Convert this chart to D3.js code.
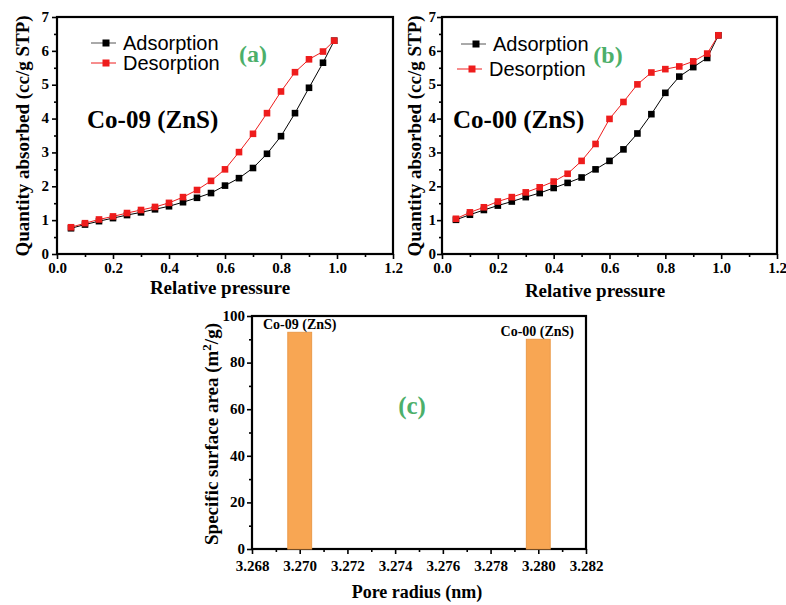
<!DOCTYPE html>
<html>
<head>
<meta charset="utf-8">
<script src="https://cdn.jsdelivr.net/npm/d3@7"></script>
<style>
  body { margin: 0; background: #fff; }
  text { font-family: "Liberation Serif", "Times New Roman", serif; font-weight: bold; }
  .legend { font-family: "Liberation Sans", Arial, sans-serif; font-weight: normal; }
</style>
</head>
<body>
<svg id="chart" width="786" height="605"></svg>
<script>
// data
const pressure = [0.05, 0.10, 0.15, 0.20, 0.25, 0.30, 0.35, 0.40, 0.45, 0.50,
                  0.55, 0.60, 0.65, 0.70, 0.75, 0.80, 0.85, 0.90, 0.95, 0.99];
const adsA = [0.76, 0.87, 0.97, 1.06, 1.15, 1.23, 1.32, 1.41, 1.53, 1.66,
              1.80, 2.02, 2.24, 2.54, 2.96, 3.48, 4.16, 4.91, 5.65, 6.30];
const desA = [0.79, 0.91, 1.02, 1.11, 1.21, 1.30, 1.39, 1.51, 1.68, 1.89,
              2.16, 2.50, 3.01, 3.55, 4.16, 4.80, 5.37, 5.75, 5.98, 6.30];
const adsB = [1.01, 1.16, 1.30, 1.43, 1.55, 1.68, 1.80, 1.95, 2.10, 2.26,
              2.50, 2.75, 3.09, 3.56, 4.13, 4.76, 5.24, 5.52, 5.79, 6.46];
const desB = [1.04, 1.23, 1.38, 1.55, 1.68, 1.82, 1.97, 2.14, 2.37, 2.75,
              3.25, 3.99, 4.49, 5.01, 5.36, 5.46, 5.54, 5.69, 5.92, 6.46];
const SERIES = ['Adsorption', 'Desorption'];
const COLORS = ['#000000', '#ee1c1c'];

const poreRadius = [3.270, 3.280];
const surfaceArea = [93, 90];
const sampleNames = ['Co-09 (ZnS)', 'Co-00 (ZnS)'];

const pressureTicks = [0.0, 0.2, 0.4, 0.6, 0.8, 1.0, 1.2];
const quantityTicks = [0, 1, 2, 3, 4, 5, 6, 7];
const radiusTicks = [3.268, 3.270, 3.272, 3.274, 3.276, 3.278, 3.280, 3.282];
const areaTicks = [0, 20, 40, 60, 80, 100];

const GREEN = '#4caf6a', ORANGE = '#f8a653';
const SERIF = '"Liberation Serif", "Times New Roman", serif';

var svg = d3.select('#chart');

// frame + axes for one panel, returns scales
function panel(box, xd, yd, xt, yt, xmin, ymin, fmtX, fmtY, opt) {
	var x = d3.scaleLinear().domain(xd).range([box.l, box.r]);
	var y = d3.scaleLinear().domain(yd).range([box.b, box.t]);
	var g = svg.append('g');

	g.append('g')
		.attr('transform', 'translate(0,' + box.b + ')')
		.call(d3.axisBottom(x).tickValues(xmin).tickSize(3).tickFormat(''))
		.call(a => a.select('.domain').remove());
	g.append('g')
		.attr('transform', 'translate(' + box.l + ',0)')
		.call(d3.axisLeft(y).tickValues(ymin).tickSize(3).tickFormat(''))
		.call(a => a.select('.domain').remove());

	var xa = g.append('g')
		.attr('transform', 'translate(0,' + box.b + ')')
		.call(d3.axisBottom(x).tickValues(xt).tickSize(5).tickPadding(opt.xpad).tickFormat(fmtX));
	var ya = g.append('g')
		.attr('transform', 'translate(' + box.l + ',0)')
		.call(d3.axisLeft(y).tickValues(yt).tickSize(5).tickPadding(opt.ypad).tickFormat(fmtY));
	[xa, ya].forEach(function(a) {
		a.select('.domain').remove();
		a.attr('font-family', SERIF)
			.attr('font-size', opt.tickFont)
			.attr('font-weight', 'bold');
		a.selectAll('text')
			.style('font-family', SERIF)
			.style('font-weight', 'bold')
			.style('font-size', opt.tickFont + 'px')
			.attr('fill', '#000');
	});
	ya.selectAll('text').attr('dy', '0.28em');
	g.selectAll('.tick line').attr('stroke', '#000').attr('stroke-width', 1.6);

	g.append('rect')
		.attr('x', box.l).attr('y', box.t)
		.attr('width', box.r - box.l).attr('height', box.b - box.t)
		.attr('fill', 'none').attr('stroke', '#000').attr('stroke-width', 2.2);
	return { x: x, y: y, g: g };
}

function isotherm(box, ads, des, sample, tag, o) {
	var p = panel(box, [0, 1.2], [0, 7], pressureTicks, quantityTicks,
		d3.range(1, 12, 2).map(d => d / 10), d3.range(0.5, 7, 1),
		d3.format('.1f'), d3.format('d'), { xpad: 3, ypad: o.ypad, tickFont: 15 });

	[ads, des].forEach(function(vals, k) {
		var pts = pressure.map((d, i) => [d, vals[i]]);
		var line = d3.line().x(d => p.x(d[0])).y(d => p.y(d[1]));
		p.g.append('path')
			.attr('d', line(pts))
			.attr('fill', 'none')
			.attr('stroke', COLORS[k])
			.attr('stroke-width', 1);
		p.g.selectAll(null)
			.data(pts)
			.enter()
			.append('rect')
			.attr('x', d => p.x(d[0]) - 3.3)
			.attr('y', d => p.y(d[1]) - 3.3)
			.attr('width', 6.6).attr('height', 6.6)
			.attr('fill', COLORS[k]);
	});

	// legend
	SERIES.forEach(function(s, k) {
		var ly = o.legY[k];
		p.g.append('line')
			.attr('x1', o.legX[k] - 15).attr('x2', o.legX[k] + 10)
			.attr('y1', ly).attr('y2', ly)
			.attr('stroke', k == 0 ? '#555' : COLORS[1]).attr('stroke-width', 1);
		p.g.append('rect')
			.attr('x', o.legX[k] - 3.5).attr('y', ly - 3.5)
			.attr('width', 7).attr('height', 7)
			.attr('fill', COLORS[k]);
		p.g.append('text')
			.attr('class', 'legend')
			.attr('x', o.legX[k] + 17).attr('y', ly + 7)
			.style('font-size', '20px')
			.text(s);
	});

	p.g.append('text')
		.attr('x', o.tagX).attr('y', o.tagY)
		.attr('text-anchor', 'middle')
		.attr('fill', GREEN)
		.style('font-size', '24px')
		.text(tag);
	p.g.append('text')
		.attr('x', o.nameX).attr('y', 128)
		.style('font-size', '25px')
		.text(sample);
	p.g.append('text')
		.attr('x', o.xtX).attr('y', o.xtY)
		.attr('text-anchor', 'middle')
		.style('font-size', '19px')
		.text('Relative pressure');
	p.g.append('text')
		.attr('transform', 'translate(' + o.ytX + ',136) rotate(-90)')
		.attr('text-anchor', 'middle')
		.style('font-size', '19px')
		.text('Quantity absorbed (cc/g STP)');
}

isotherm({ l: 57, r: 393, t: 17, b: 254 }, adsA, desA, 'Co-09 (ZnS)', '(a)',
	{ ypad: 3, legX: [106, 106], legY: [43, 63], tagX: 253, tagY: 62, nameX: 87,
	  xtX: 220, xtY: 294, ytX: 29 });
isotherm({ l: 442, r: 777, t: 17, b: 254 }, adsB, desB, 'Co-00 (ZnS)', '(b)',
	{ ypad: 1, legX: [476, 472], legY: [44, 69], tagX: 608, tagY: 63, nameX: 453,
	  xtX: 595, xtY: 297, ytX: 421 });

// panel (c): surface area bars
var boxC = { l: 252, r: 586, t: 316, b: 549 };
var c = panel(boxC, [3.268, 3.282], [0, 100], radiusTicks, areaTicks,
	d3.range(3.269, 3.2815, 0.002), d3.range(10, 100, 20),
	d3.format('.3f'), d3.format('d'), { xpad: 6, ypad: 2, tickFont: 15 });

c.g.selectAll('.bar')
	.data(poreRadius)
	.enter()
	.append('rect')
	.attr('class', 'bar')
	.attr('x', d => c.x(d - 0.0005))
	.attr('width', d => c.x(d + 0.0005) - c.x(d - 0.0005))
	.attr('y', (d, i) => c.y(surfaceArea[i]))
	.attr('height', (d, i) => c.y(0) - c.y(surfaceArea[i]))
	.attr('fill', ORANGE)
	.attr('stroke', '#eb9a4a')
	.attr('stroke-width', 1);

c.g.selectAll('.blabel')
	.data(sampleNames)
	.enter()
	.append('text')
	.attr('class', 'blabel')
	.attr('x', (d, i) => c.x(poreRadius[i]) + (i == 0 ? 0 : -1))
	.attr('y', (d, i) => c.y(surfaceArea[i]) - 3)
	.attr('text-anchor', 'middle')
	.style('font-size', '14px')
	.text(d => d);

c.g.append('text')
	.attr('x', 412).attr('y', 414)
	.attr('text-anchor', 'middle')
	.attr('fill', GREEN)
	.style('font-size', '25px')
	.text('(c)');
c.g.append('text')
	.attr('x', 417).attr('y', 598)
	.attr('text-anchor', 'middle')
	.style('font-size', '18px')
	.text('Pore radius (nm)');
var yt = c.g.append('text')
	.attr('transform', 'translate(218,434) rotate(-90)')
	.attr('text-anchor', 'middle')
	.style('font-size', '19px');
yt.append('tspan').text('Specific surface area (m');
yt.append('tspan').attr('dy', -7).style('font-size', '13px').text('2');
yt.append('tspan').attr('dy', 7).text('/g)');
</script>
</body>
</html>
